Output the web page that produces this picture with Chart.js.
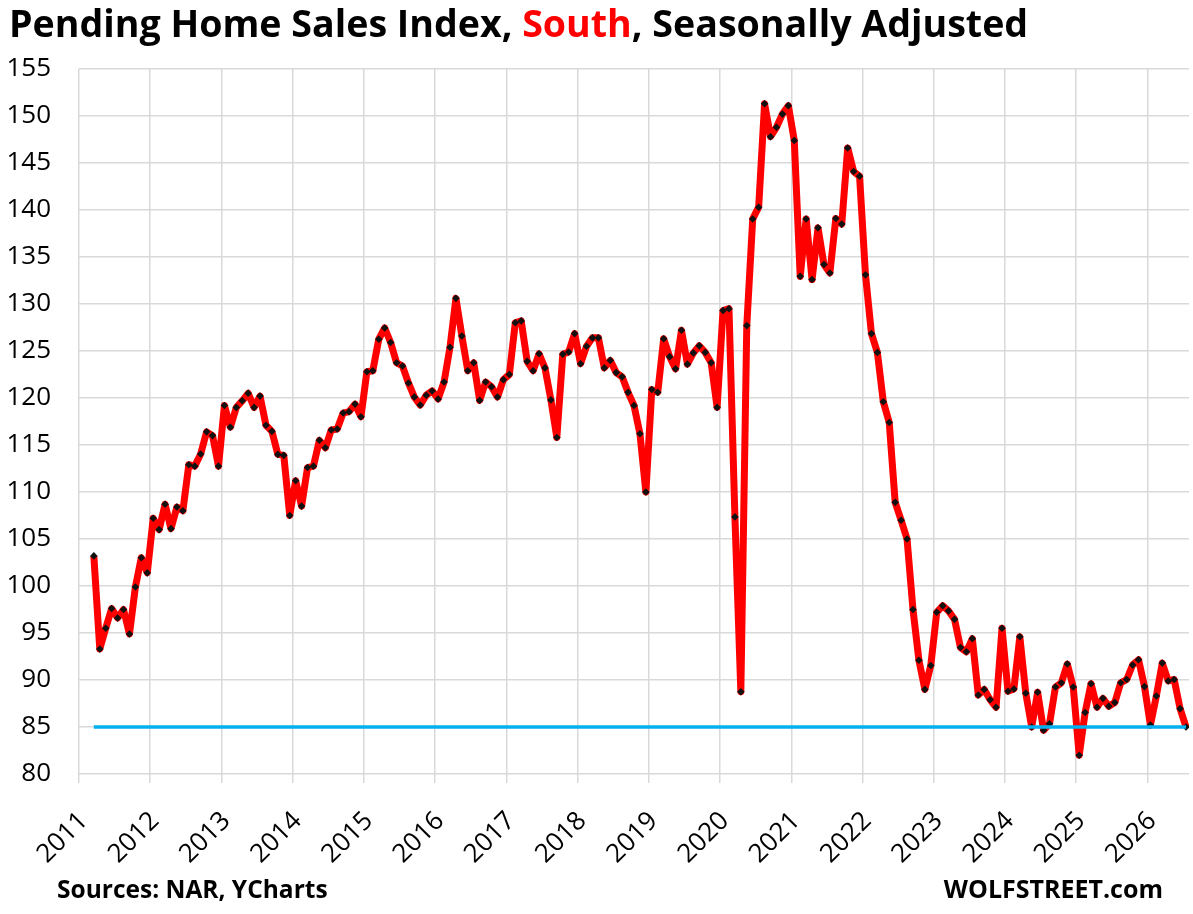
<!DOCTYPE html>
<html>
<head>
<meta charset="utf-8">
<title>Pending Home Sales Index, South, Seasonally Adjusted</title>
<script src="https://cdn.jsdelivr.net/npm/chart.js@4.4.1/dist/chart.umd.min.js"></script>
<style>
  html, body { margin: 0; background: #ffffff; }
  #wrap { position: relative; width: 1193px; height: 914px; }
</style>
</head>
<body>
<div id="wrap"><canvas id="salesChart"></canvas></div>
<script>
// axis starts Jan 2011, first reading is Mar 2011
const AXIS_START_YEAR = 2011;
const FIRST_MONTH = 3;

const values2011 = [103.2, 93.3, 95.5, 97.6, 96.6, 97.5, 94.9, 99.9, 103.0, 101.4];
const values2012 = [107.2, 106.0, 108.7, 106.1, 108.4, 108.0, 112.9, 112.75, 114.05, 116.4, 116.0, 112.75];
const values2013 = [119.2, 116.9, 119.0, 119.7, 120.5, 119.0, 120.2, 117.1, 116.45, 114.0, 113.9, 107.5];
const values2014 = [111.2, 108.5, 112.6, 112.75, 115.5, 114.7, 116.6, 116.7, 118.4, 118.55, 119.35, 118.0];
const values2015 = [122.8, 122.9, 126.25, 127.45, 125.9, 123.75, 123.4, 121.6, 120.1, 119.25, 120.3, 120.75];
const values2016 = [119.9, 121.7, 125.4, 130.6, 126.6, 122.9, 123.75, 119.75, 121.7, 121.2, 120.1, 121.95];
const values2017 = [122.5, 128.0, 128.2, 123.9, 122.9, 124.7, 123.2, 119.8, 115.8, 124.65, 124.9, 126.85];
const values2018 = [123.65, 125.5, 126.4, 126.4, 123.2, 124.0, 122.7, 122.25, 120.6, 119.2, 116.2, 110.0];
const values2019 = [120.9, 120.6, 126.3, 124.4, 123.1, 127.2, 123.6, 124.8, 125.55, 124.85, 123.75, 119.0];
const values2020 = [129.3, 129.5, 107.35, 88.75, 127.7, 139.05, 140.3, 151.3, 147.8, 148.8, 150.2, 151.1];
const values2021 = [147.4, 132.95, 139.05, 132.6, 138.1, 134.2, 133.3, 139.1, 138.5, 146.6, 144.1, 143.6];
const values2022 = [133.1, 126.85, 124.85, 119.6, 117.4, 108.9, 107.0, 105.0, 97.5, 92.1, 89.0, 91.55];
const values2023 = [97.2, 97.9, 97.35, 96.45, 93.45, 93.0, 94.4, 88.4, 89.0, 87.9, 87.1, 95.5];
const values2024 = [88.8, 89.05, 94.6, 88.6, 85.0, 88.7, 84.65, 85.35, 89.25, 89.7, 91.7, 89.25];
const values2025 = [82.0, 86.55, 89.6, 87.1, 88.05, 87.2, 87.6, 89.7, 90.05, 91.6, 92.15, 89.3];
const values2026 = [85.2, 88.3, 91.8, 89.9, 90.05, 86.95, 85.0];

const referenceLevel = 85;
const yTickValues = [80, 85, 90, 95, 100, 105, 110, 115, 120, 125, 130, 135, 140, 145, 150, 155];
const yearLabels = ["2011", "2012", "2013", "2014", "2015", "2016", "2017", "2018",
  "2019", "2020", "2021", "2022", "2023", "2024", "2025", "2026"];

const titleParts = [
  { text: "Pending Home Sales Index, ", color: "#000000" },
  { text: "South", color: "#ff0000" },
  { text: ", Seasonally Adjusted", color: "#000000" }
];
const sourceText = "Sources: NAR, YCharts";
const siteText = "WOLFSTREET.com";

const indexValues = [].concat(values2011, values2012, values2013, values2014, values2015,
  values2016, values2017, values2018, values2019, values2020, values2021, values2022,
  values2023, values2024, values2025, values2026);

// month slot centre on an axis counted in months from Jan 2011
const salesPoints = indexValues.map((v, i) => ({ x: FIRST_MONTH - 1 + i + 0.5, y: v }));
const levelPoints = salesPoints.map((p) => ({ x: p.x, y: referenceLevel }));
const axisMonths = FIRST_MONTH - 1 + indexValues.length;

const tickFont = { family: "'Open Sans', sans-serif", size: 26 };

// title, footers and the slanted year labels (Excel style, end of text at the gridline)
const textPlugin = {
  id: "chartText",
  afterDraw(chart) {
    const ctx = chart.ctx;
    const xScale = chart.scales.x;
    ctx.save();
    ctx.textBaseline = "alphabetic";
    ctx.textAlign = "left";
    ctx.font = "bold 37.6px 'Open Sans', sans-serif";
    let x = 9;
    titleParts.forEach((part) => {
      ctx.fillStyle = part.color;
      ctx.fillText(part.text, x, 37);
      x += ctx.measureText(part.text).width;
    });

    ctx.fillStyle = "#000000";
    ctx.font = "26px 'Open Sans', sans-serif";
    ctx.textAlign = "right";
    yearLabels.forEach((label, i) => {
      const px = xScale.getPixelForValue(i * 12);
      ctx.save();
      ctx.translate(px + 10, xScale.top + 48);
      ctx.rotate(-Math.PI / 4);
      ctx.fillText(label, 0, 0);
      ctx.restore();
    });

    ctx.textAlign = "left";
    ctx.font = "bold 24.5px 'Open Sans', sans-serif";
    ctx.fillText(sourceText, 57, 898);
    ctx.textAlign = "right";
    ctx.font = "bold 25px 'Open Sans', sans-serif";
    ctx.fillText(siteText, 1163, 898);
    ctx.restore();
  }
};

new Chart(document.getElementById("salesChart"), {
  type: "line",
  data: {
    datasets: [
      {
        label: "85 level",
        data: levelPoints,
        borderColor: "#00b0f0",
        borderWidth: 3.5,
        pointRadius: 0,
        order: 0
      },
      {
        label: "Pending Home Sales Index, South",
        data: salesPoints,
        borderColor: "#ff0000",
        borderWidth: 7,
        borderJoinStyle: "round",
        pointStyle: "rectRot",
        pointRadius: 3.8,
        pointBackgroundColor: "#111111",
        pointBorderWidth: 0,
        tension: 0,
        order: 1
      }
    ]
  },
  options: {
    responsive: true,
    maintainAspectRatio: false,
    animation: false,
    layout: { padding: { top: 69, right: 3, bottom: 0, left: 0 } },
    plugins: {
      legend: { display: false },
      tooltip: { enabled: false }
    },
    scales: {
      x: {
        type: "linear",
        min: 0,
        max: axisMonths,
        afterFit: (scale) => { scale.height = 140; },
        border: { display: false },
        grid: { color: "#d9d9d9", lineWidth: 1.5, tickLength: 9, drawTicks: true },
        ticks: {
          stepSize: 12,
          includeBounds: false,
          display: false
        }
      },
      y: {
        min: yTickValues[0],
        max: yTickValues[yTickValues.length - 1],
        afterFit: (scale) => { scale.width = 79; },
        border: { display: false },
        grid: { color: "#d9d9d9", lineWidth: 1.5, drawTicks: false },
        ticks: {
          stepSize: yTickValues[1] - yTickValues[0],
          padding: 28,
          color: "#000000",
          font: tickFont
        }
      }
    }
  },
  plugins: [textPlugin]
});
</script>
</body>
</html>
